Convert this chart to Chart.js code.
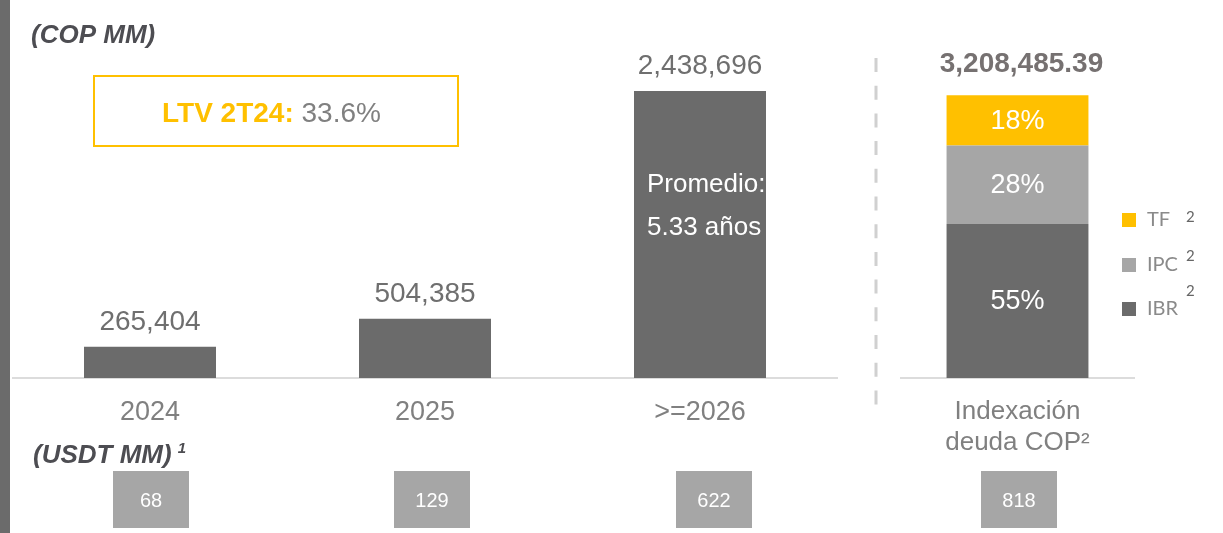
<!DOCTYPE html>
<html><head><meta charset="utf-8">
<script src="https://cdn.jsdelivr.net/npm/chart.js@4/dist/chart.umd.min.js"></script>
<style>
html,body{margin:0;padding:0;background:#fff;width:1223px;height:533px;overflow:hidden;position:relative}
#leftbar{position:absolute;left:0;top:0;width:10px;height:533px;background:#6b6b6b}
#c1wrap{position:absolute;left:0;top:0;width:860px;height:533px}
#c2wrap{position:absolute;left:860px;top:0;width:363px;height:533px}
</style></head><body>
<div id="leftbar"></div>
<div id="c1wrap"><canvas id="c1"></canvas></div>
<div id="c2wrap"><canvas id="c2"></canvas></div>
<script>
// ---- data ----
const categories = ['2024', '2025', '>=2026'];
const copValues = [265404, 504385, 2438696];
const usdValues = [68, 129, 622];
const indexCategory = [['Indexación', 'deuda COP²']];
const indexSeries = ['IBR', 'IPC', 'TF'];
const indexShares = [55, 28, 18];
const indexTotal = 3208485.39;
const indexUsd = [818];
const ltvLabel = 'LTV 2T24:';
const ltvValue = '33.6%';
const avgTenorText = ['Promedio:', '5.33 años'];

// ---- styles ----
const FONT = '"Liberation Sans", Arial, sans-serif';
const DARK = '#6b6b6b', MID = '#a6a6a6', YEL = '#ffc000';
const indexColors = [DARK, MID, YEL];
const usdBoxShift = [1, 7, 14];
Chart.defaults.font.family = FONT;

function usdBox(ctx, cx, v) {
  ctx.save();
  ctx.fillStyle = MID;
  ctx.fillRect(cx - 38, 471, 76, 57);
  ctx.fillStyle = '#ffffff';
  ctx.font = '20px ' + FONT;
  ctx.textAlign = 'center';
  ctx.textBaseline = 'alphabetic';
  ctx.fillText(String(v), cx, 507);
  ctx.restore();
}

const mainPlugin = {
  id: 'mainDecor',
  afterDatasetsDraw(chart) {
    const ctx = chart.ctx;
    const meta = chart.getDatasetMeta(0);
    ctx.save();
    // value labels
    ctx.font = '28px ' + FONT;
    ctx.fillStyle = '#6f6f6f';
    ctx.textAlign = 'center';
    ctx.textBaseline = 'alphabetic';
    meta.data.forEach((bar, i) => {
      ctx.fillText(copValues[i].toLocaleString('en-US'), bar.x, bar.y - 17);
    });
    // average tenor text inside last bar
    const last = meta.data[meta.data.length - 1];
    ctx.fillStyle = '#ffffff';
    ctx.font = '26px ' + FONT;
    ctx.textAlign = 'left';
    const lx = last.x - last.width / 2 + 13;
    ctx.fillText(avgTenorText[0], lx, last.y + 101);
    ctx.fillText(avgTenorText[1], lx, last.y + 144);
    // LTV box
    ctx.strokeStyle = YEL;
    ctx.lineWidth = 2;
    ctx.strokeRect(94, 76, 364, 70);
    ctx.font = 'bold 28px ' + FONT;
    const w1 = ctx.measureText(ltvLabel + ' ').width;
    ctx.fillStyle = YEL;
    ctx.fillText(ltvLabel, 162, 122);
    ctx.font = '28px ' + FONT;
    ctx.fillStyle = '#808080';
    ctx.fillText(ltvValue, 162 + w1, 122);
    // unit titles
    ctx.fillStyle = '#4d4d52';
    ctx.font = 'italic bold 26px ' + FONT;
    ctx.fillText('(COP MM)', 31, 43);
    ctx.fillText('(USDT MM)', 33, 463);
    const wU = ctx.measureText('(USDT MM)').width;
    ctx.font = 'italic bold 15px ' + FONT;
    ctx.fillText('1', 33 + wU + 6, 453);
    ctx.restore();
    // USD boxes
    meta.data.forEach((bar, i) => usdBox(ctx, bar.x + usdBoxShift[i], usdValues[i]));
  }
};

new Chart(document.getElementById('c1'), {
  type: 'bar',
  data: {
    labels: categories,
    datasets: [{ data: copValues, backgroundColor: DARK, barPercentage: 0.48, categoryPercentage: 1 }]
  },
  options: {
    responsive: true, maintainAspectRatio: false, animation: false, devicePixelRatio: 1,
    layout: { padding: { left: 12.5, right: 22.5, top: 0, bottom: 0 } },
    plugins: { legend: { display: false }, tooltip: { enabled: false } },
    scales: {
      x: {
        grid: { display: false, drawTicks: false },
        border: { display: true, color: '#dcdcdc', width: 2 },
        ticks: { font: { size: 27 }, color: '#808080', padding: 18, maxRotation: 0 },
        afterFit(s) { s.height = 155; }
      },
      y: { display: false, min: 0, max: 3212000 }
    }
  },
  plugins: [mainPlugin]
});

const sidePlugin = {
  id: 'sideDecor',
  afterDatasetsDraw(chart) {
    const ctx = chart.ctx;
    const area = chart.chartArea;
    ctx.save();
    // dashed separator
    ctx.strokeStyle = '#d0d0d0';
    ctx.lineWidth = 3;
    ctx.setLineDash([14, 13.7]);
    ctx.beginPath();
    ctx.moveTo(area.left - 25, 58);
    ctx.lineTo(area.left - 25, 407);
    ctx.stroke();
    ctx.setLineDash([]);
    // segment labels
    ctx.font = '27px ' + FONT;
    ctx.fillStyle = '#ffffff';
    ctx.textAlign = 'center';
    ctx.textBaseline = 'middle';
    let top = Infinity, cx = 0;
    chart.data.datasets.forEach((ds, i) => {
      const el = chart.getDatasetMeta(i).data[0];
      ctx.fillText(ds.data[0] + '%', el.x, (el.y + el.base) / 2 + 1);
      top = Math.min(top, el.y);
      cx = el.x;
    });
    // total
    ctx.textBaseline = 'alphabetic';
    ctx.font = 'bold 28px ' + FONT;
    ctx.fillStyle = '#767171';
    ctx.fillText(indexTotal.toLocaleString('en-US', { minimumFractionDigits: 2, maximumFractionDigits: 2 }), cx + 4, top - 23);
    // legend (top to bottom: TF, IPC, IBR)
    const sq = [213, 258, 302];
    const sup = [222, 261, 296];
    const order = [2, 1, 0];
    ctx.textAlign = 'left';
    order.forEach((di, k) => {
      const ds = chart.data.datasets[di];
      ctx.fillStyle = ds.backgroundColor;
      ctx.fillRect(area.right - 12, sq[k], 14, 14);
      ctx.fillStyle = '#8a8a8a';
      ctx.font = '20px Lato, "Open Sans", sans-serif';
      ctx.fillText(ds.label, area.right + 13, sq[k] + 13);
      ctx.fillStyle = '#666666';
      ctx.font = '15px Lato, "Open Sans", sans-serif';
      ctx.fillText('2', area.right + 52, sup[k]);
    });
    ctx.restore();
    usdBox(ctx, cx + 1.5, indexUsd[0]);
  }
};

new Chart(document.getElementById('c2'), {
  type: 'bar',
  data: {
    labels: indexCategory,
    datasets: indexSeries.map((s, i) => ({
      label: s, data: [indexShares[i]], backgroundColor: indexColors[i],
      barPercentage: 0.609, categoryPercentage: 1
    }))
  },
  options: {
    responsive: true, maintainAspectRatio: false, animation: false, devicePixelRatio: 1,
    layout: { padding: { left: 41, right: 89, top: 0, bottom: 0 } },
    plugins: { legend: { display: false }, tooltip: { enabled: false } },
    scales: {
      x: {
        stacked: true,
        grid: { display: false, drawTicks: false },
        border: { display: true, color: '#dcdcdc', width: 2 },
        ticks: { font: { size: 26 }, color: '#808080', padding: 18, maxRotation: 0 },
        afterFit(s) { s.height = 155; }
      },
      y: { stacked: true, display: false, min: 0, max: 135 }
    }
  },
  plugins: [sidePlugin]
});
</script>
</body></html>
